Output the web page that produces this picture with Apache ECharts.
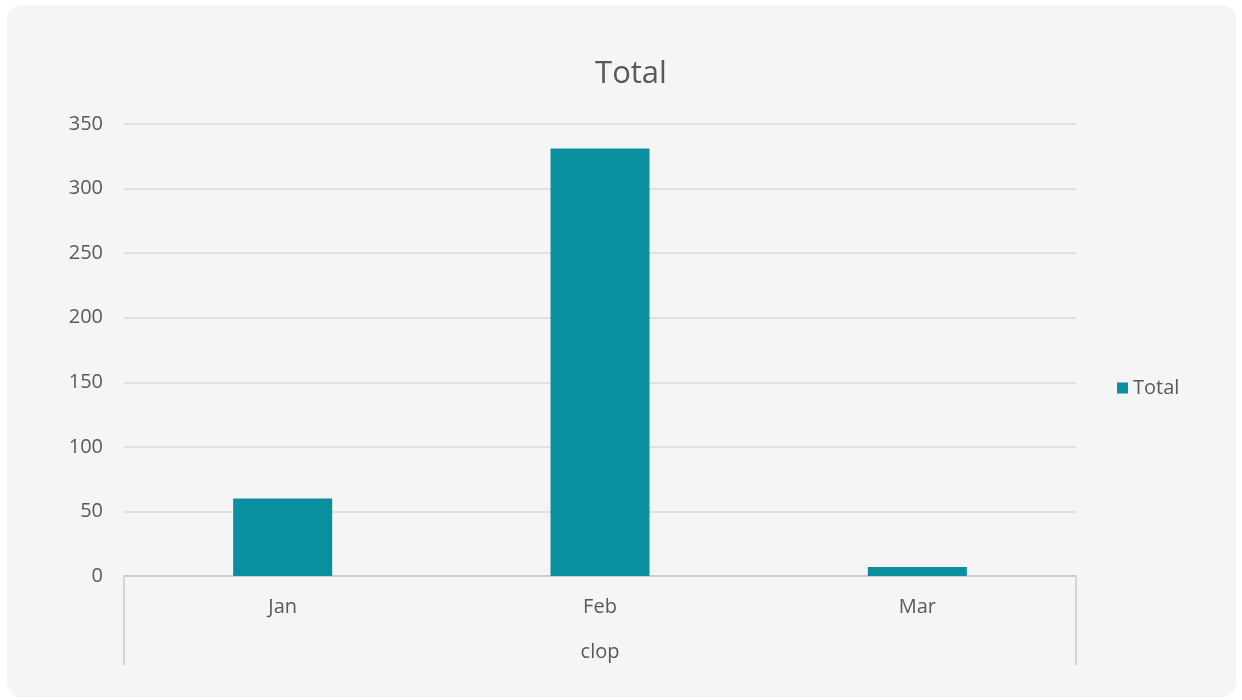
<!DOCTYPE html>
<html>
<head>
<meta charset="utf-8">
<script src="https://cdn.jsdelivr.net/npm/echarts@6/dist/echarts.min.js"></script>
<style>
    html, body { margin: 0; padding: 0; background: #ffffff; }
    #container {
        position: absolute;
        left: 7px;
        top: 5px;
        width: 1229px;
        height: 692px;
        background: #f5f5f5;
        border-radius: 14px;
        overflow: hidden;
    }
</style>
</head>
<body>
<div id="container"></div>
<script>
// data
var months = ['Jan', 'Feb', 'Mar'];
var groupLabel = ['clop'];
var totals = [60, 331, 7];
var seriesName = 'Total';

var textColor = '#595959';
var fontName = '"Open Sans", "Noto Sans", sans-serif';

var myChart = echarts.init(document.getElementById('container'));

var option = {
    backgroundColor: 'transparent',
    animation: false,
    title: {
        text: 'Total',
        left: 619,
        top: 49,
        textAlign: 'center',
        textStyle: {
            fontFamily: fontName,
            fontSize: 31,
            fontWeight: 'normal',
            color: textColor
        }
    },
    legend: {
        data: [seriesName],
        left: 1105,
        top: 368,
        icon: 'rect',
        itemWidth: 11,
        itemHeight: 11,
        itemGap: 6,
        textStyle: {
            fontFamily: fontName,
            fontSize: 20,
            color: textColor
        }
    },
    grid: {
        left: 117,
        right: 160,
        top: 119,
        bottom: 121,
        containLabel: false
    },
    xAxis: [
        {
            type: 'category',
            data: months,
            position: 'bottom',
            axisLine: { show: true, lineStyle: { color: '#cccccc', width: 2 } },
            axisTick: { show: false },
            axisLabel: {
                margin: 21,
                fontFamily: fontName,
                fontSize: 20,
                color: textColor
            }
        },
        {
            type: 'category',
            data: groupLabel,
            position: 'bottom',
            axisLine: { show: false },
            axisTick: { show: true, length: 89, lineStyle: { color: '#d4d4d4', width: 2 } },
            axisLabel: {
                margin: 66,
                fontFamily: fontName,
                fontSize: 20,
                color: textColor
            },
            splitLine: { show: false }
        }
    ],
    yAxis: {
        type: 'value',
        min: 0,
        max: 350,
        interval: 50,
        axisLine: { show: false },
        axisTick: { show: false },
        axisLabel: {
            margin: 21,
            fontFamily: fontName,
            fontSize: 20,
            color: textColor
        },
        splitLine: { lineStyle: { color: '#e0e0e0', width: 2 } }
    },
    series: [
        {
            name: seriesName,
            type: 'bar',
            xAxisIndex: 0,
            data: totals,
            barWidth: 99,
            itemStyle: { color: '#0a8f9f' }
        }
    ]
};

myChart.setOption(option);
</script>
</body>
</html>
